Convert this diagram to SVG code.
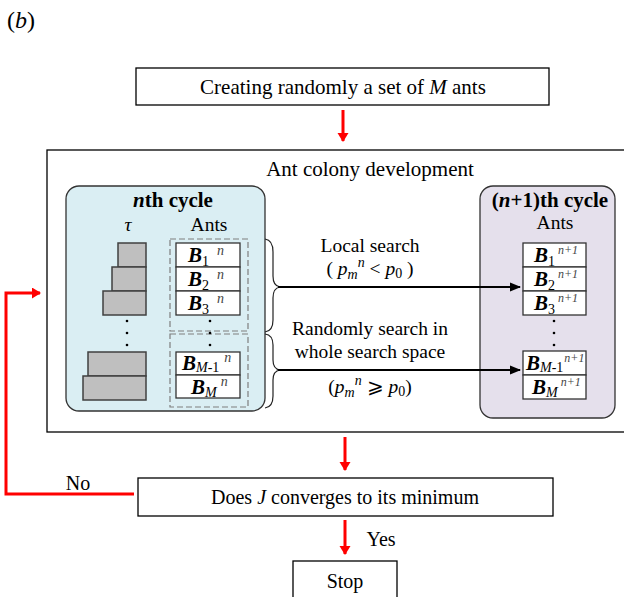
<svg xmlns="http://www.w3.org/2000/svg" width="624" height="597" viewBox="0 0 624 597">
<defs>
<style>
text{font-family:"Liberation Serif","Times New Roman",serif;fill:#000}
.t{font-size:20.5px}
.s{font-size:19.5px}
.h{font-size:21px;font-weight:bold}
.box{fill:#fff;stroke:#000;stroke-width:1.3}
.blk{fill:#bfbfbf;stroke:#404040;stroke-width:1.5}
.ant{fill:#fff;stroke:#333;stroke-width:1.3}
.dash{fill:none;stroke:#7f7f7f;stroke-width:1.2;stroke-dasharray:6 3}
.red{stroke:#ff0000;stroke-width:3;fill:none}
.blk2{stroke:#000;stroke-width:2;fill:none}
.dot{fill:#000}
.B{font-size:21px;font-weight:bold;font-style:italic}
.sub{font-size:14px}
.sup{font-size:14px;font-style:italic;fill:#444}
.sup2{font-size:12px;font-style:italic;fill:#444}
</style>
<marker id="ra" markerWidth="12" markerHeight="12" refX="8" refY="5.5" orient="auto" markerUnits="userSpaceOnUse"><path d="M0,0 L9,5.5 L0,11 z" fill="#ff0000"/></marker>
<marker id="ka" markerWidth="12" markerHeight="10" refX="10" refY="5" orient="auto" markerUnits="userSpaceOnUse"><path d="M0,0.5 L11,5 L0,9.5 z" fill="#000"/></marker>
</defs>

<text x="7" y="28" style="font-size:24px">(<tspan font-style="italic">b</tspan>)</text>

<g id="start">
<rect class="box" x="136" y="68" width="413" height="37"/>
<text x="343" y="94" text-anchor="middle" style="font-size:21px">Creating randomly a set of <tspan font-style="italic">M</tspan> ants</text>
</g>

<g id="colony">
<rect class="box" x="47" y="150" width="590" height="282"/>
<text x="370" y="176" text-anchor="middle" style="font-size:21px">Ant colony development</text>
</g>

<g id="cycle-n">
<rect x="66" y="186" width="199" height="225" rx="13" fill="#daeef3" stroke="#333" stroke-width="1.3"/>
<text class="h" x="173" y="207" text-anchor="middle"><tspan font-style="italic">n</tspan>th cycle</text>
<text class="s" x="128" y="231" text-anchor="middle" font-style="italic">τ</text>
<text class="s" x="209" y="231" text-anchor="middle">Ants</text>
<rect class="blk" x="118" y="243" width="28" height="24"/>
<rect class="blk" x="112" y="267" width="34" height="24"/>
<rect class="blk" x="103" y="291" width="43" height="24"/>
<circle class="dot" cx="127" cy="321" r="1.3"/><circle class="dot" cx="127" cy="333" r="1.3"/><circle class="dot" cx="127" cy="345" r="1.3"/>
<rect class="blk" x="88" y="352" width="58" height="24"/>
<rect class="blk" x="83" y="376" width="63" height="24"/>
<rect class="dash" x="170" y="239" width="78" height="92"/>
<rect class="dash" x="170" y="334" width="78" height="73"/>
<rect class="ant" x="176" y="243" width="64" height="24"/>
<rect class="ant" x="176" y="267" width="64" height="24"/>
<rect class="ant" x="176" y="291" width="64" height="24"/>
<rect class="ant" x="176" y="352" width="64" height="23"/>
<rect class="ant" x="176" y="375" width="64" height="23"/>
<text x="188" y="262"><tspan class="B">B</tspan><tspan class="sub" dy="4">1</tspan><tspan class="sup" dx="8" dy="-11">n</tspan></text>
<text x="188" y="286"><tspan class="B">B</tspan><tspan class="sub" dy="4">2</tspan><tspan class="sup" dx="8" dy="-11">n</tspan></text>
<text x="188" y="310"><tspan class="B">B</tspan><tspan class="sub" dy="4">3</tspan><tspan class="sup" dx="8" dy="-11">n</tspan></text>
<circle class="dot" cx="210" cy="321" r="1.3"/><circle class="dot" cx="210" cy="333" r="1.3"/><circle class="dot" cx="210" cy="345" r="1.3"/>
<text x="182" y="370"><tspan class="B">B</tspan><tspan class="sub" dy="2" font-size="13"><tspan font-style="italic">M</tspan>-1</tspan><tspan class="sup" dx="5" dy="-10">n</tspan></text>
<text x="191" y="394"><tspan class="B">B</tspan><tspan class="sub" dy="3" font-style="italic">M</tspan><tspan class="sup" dx="4" dy="-11">n</tspan></text>
</g>

<g id="cycle-n1">
<rect x="480" y="186" width="135" height="232" rx="13" fill="#e5e0ec" stroke="#333" stroke-width="1.3"/>
<text class="h" x="550" y="207" text-anchor="middle">(<tspan font-style="italic">n</tspan>+1)th cycle</text>
<text class="s" x="555" y="229" text-anchor="middle">Ants</text>
<rect class="ant" x="523" y="243" width="63" height="24"/>
<rect class="ant" x="523" y="267" width="63" height="24"/>
<rect class="ant" x="523" y="291" width="63" height="24"/>
<rect class="ant" x="523" y="351" width="63" height="24"/>
<rect class="ant" x="523" y="375" width="63" height="24"/>
<text x="534" y="262"><tspan class="B">B</tspan><tspan class="sub" dy="4">1</tspan><tspan class="sup2" dx="3" dy="-12">n+1</tspan></text>
<text x="534" y="286"><tspan class="B">B</tspan><tspan class="sub" dy="4">2</tspan><tspan class="sup2" dx="3" dy="-12">n+1</tspan></text>
<text x="534" y="310"><tspan class="B">B</tspan><tspan class="sub" dy="4">3</tspan><tspan class="sup2" dx="3" dy="-12">n+1</tspan></text>
<circle class="dot" cx="554" cy="321" r="1.3"/><circle class="dot" cx="554" cy="333" r="1.3"/><circle class="dot" cx="554" cy="345" r="1.3"/>
<text x="526" y="370"><tspan class="B">B</tspan><tspan class="sub" dy="2" font-size="13"><tspan font-style="italic">M</tspan>-1</tspan><tspan class="sup2" dx="1" dy="-10">n+1</tspan></text>
<text x="532" y="394"><tspan class="B">B</tspan><tspan class="sub" dy="3" font-style="italic">M</tspan><tspan class="sup2" dx="3" dy="-11">n+1</tspan></text>
</g>

<g id="decision">
<rect class="box" x="138" y="478" width="415" height="38"/>
<text x="345" y="504" text-anchor="middle" style="font-size:20px">Does <tspan font-style="italic">J</tspan> converges to its minimum</text>
</g>

<g id="stop">
<rect class="box" x="293" y="561" width="104" height="40"/>
<text x="345" y="588" text-anchor="middle" style="font-size:20px">Stop</text>
</g>

<g id="connectors">
<line class="red" x1="343" y1="110" x2="343" y2="141" marker-end="url(#ra)"/>
<line class="red" x1="345" y1="437" x2="345" y2="470" marker-end="url(#ra)"/>
<line class="red" x1="345" y1="520" x2="345" y2="554" marker-end="url(#ra)"/>
<polyline class="red" points="134,494 6,494 6,293 40,293" marker-end="url(#ra)"/>
<path d="M265,239 Q273,240 273,252 L273,276 Q273,286 280,287 Q273,288 273,298 L273,320 Q273,331 265,332" fill="none" stroke="#222" stroke-width="1.2"/>
<path d="M265,334 Q273,335 273,345 L273,360 Q273,369 280,370 Q273,371 273,380 L273,396 Q273,407 265,408" fill="none" stroke="#222" stroke-width="1.2"/>
<line class="blk2" x1="278" y1="287" x2="520" y2="287" marker-end="url(#ka)"/>
<line class="blk2" x1="278" y1="370" x2="520" y2="370" marker-end="url(#ka)"/>
</g>

<g id="labels">
<text class="s" x="370" y="252" text-anchor="middle">Local search</text>
<text class="s" x="370" y="275" text-anchor="middle">( <tspan font-style="italic">p</tspan><tspan font-style="italic" font-size="14" dy="4">m</tspan><tspan font-style="italic" font-size="14" dy="-12">n</tspan><tspan dy="8"> &lt; </tspan><tspan font-style="italic">p</tspan><tspan font-size="14" dy="3">0</tspan><tspan dy="-3"> )</tspan></text>
<text class="s" x="370" y="335" text-anchor="middle">Randomly search in</text>
<text class="s" x="370" y="358" text-anchor="middle">whole search space</text>
<text class="s" x="370" y="393" text-anchor="middle">(<tspan font-style="italic">p</tspan><tspan font-style="italic" font-size="14" dy="4">m</tspan><tspan font-style="italic" font-size="14" dy="-12">n</tspan><tspan dy="8"> ⩾ </tspan><tspan font-style="italic">p</tspan><tspan font-size="14" dy="3">0</tspan><tspan dy="-3">)</tspan></text>
<text x="78" y="490" text-anchor="middle" style="font-size:20px">No</text>
<text x="381" y="546" text-anchor="middle" style="font-size:20px">Yes</text>
</g>
</svg>
